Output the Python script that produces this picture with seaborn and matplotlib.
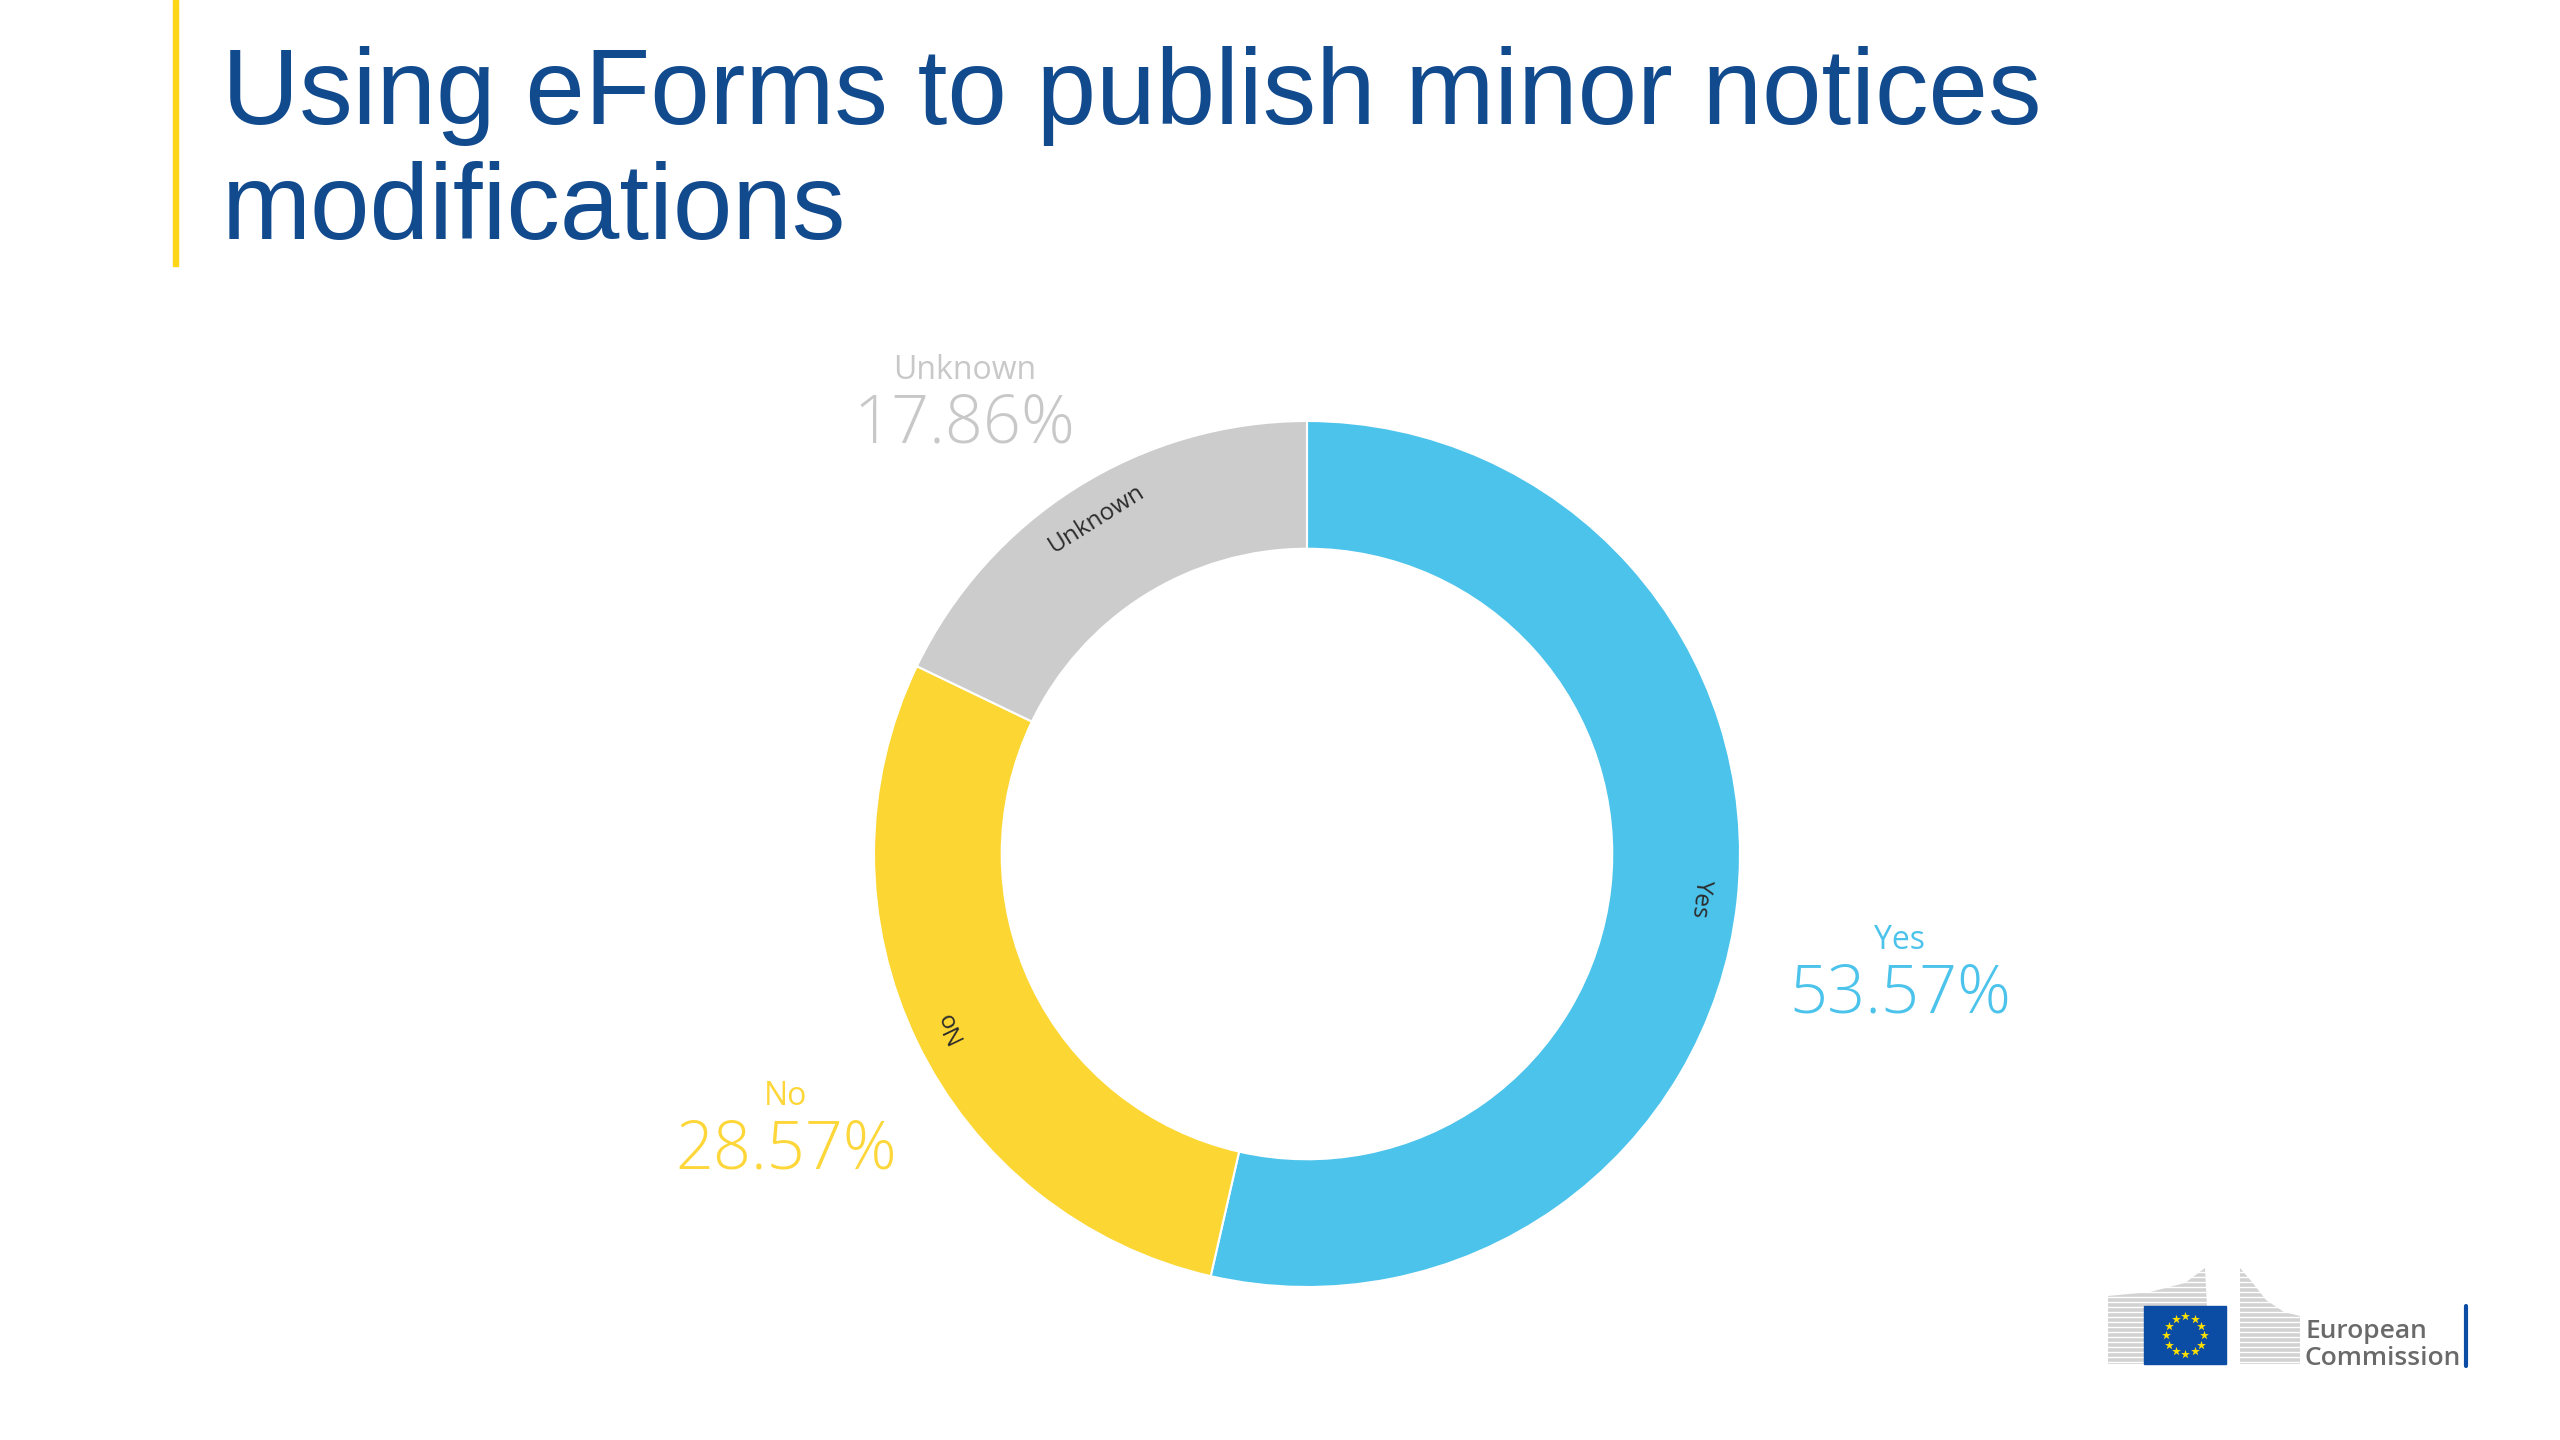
import numpy as np
import matplotlib
matplotlib.use("Agg")
import matplotlib.pyplot as plt
import seaborn as sns
from matplotlib.offsetbox import TextArea, VPacker, AnnotationBbox
from matplotlib.patches import Rectangle, Polygon

# data
categories = ["Yes", "No", "Unknown"]
shares = [53.57, 28.57, 17.86]
slice_colors = ["#4CC3EB", "#FCD633", "#CCCCCC"]
label_colors = ["#4CC3EB", "#FDD73A", "#C8C8C8"]
title = "Using eForms to publish minor notices\nmodifications"

W, H = 2560, 1440
CX, CY, R_PX = 1307, 854, 433   # donut centre / outer radius in pixels

sns.set_theme(style="white")
plt.rcParams["font.family"] = ["Open Sans", "DejaVu Sans"]

fig = plt.figure(figsize=(W / 100, H / 100), dpi=100)
fig.patch.set_facecolor("white")

# donut, 1 data unit == outer radius
ax = fig.add_axes([0, 0, 1, 1])
wedges, _ = ax.pie(shares, colors=slice_colors, startangle=90, counterclock=False,
                   radius=1, wedgeprops=dict(width=0.295, edgecolor="white", linewidth=1.5))
ax.set_xlim(-CX / R_PX, (W - CX) / R_PX)
ax.set_ylim((CY - H) / R_PX, CY / R_PX)
ax.axis("off")

for w, cat, share, lc in zip(wedges, categories, shares, label_colors):
    mid = np.deg2rad((w.theta1 + w.theta2) / 2)
    c, s = np.cos(mid), np.sin(mid)
    # category name along the ring
    ax.text(0.915 * c, 0.915 * s, cat, rotation=np.rad2deg(mid) - 90,
            rotation_mode="anchor", ha="center", va="center",
            fontsize=17.5, color="#2B2B2B")
    # outside data label
    box = VPacker(children=[
        TextArea(cat, textprops=dict(color=lc, fontsize=23)),
        TextArea(f"{share:.2f}%", textprops=dict(color=lc, fontsize=48, fontweight="light"))],
        align="center", pad=0, sep=4)
    ab = AnnotationBbox(box, (1.12 * c, 1.12 * s), xycoords="data",
                        xybox=(0, -11), boxcoords="offset points",
                        box_alignment=(0 if c > 0 else 0.88, 1 if s < 0 else 0),
                        frameon=False, pad=0)
    ax.add_artist(ab)

# slide decorations in pixel coords
axd = fig.add_axes([0, 0, 1, 1])
axd.set_xlim(0, W); axd.set_ylim(H, 0)
axd.axis("off"); axd.patch.set_alpha(0)

axd.add_patch(Rectangle((173, 0), 5, 266, color="#FFD617"))
axd.text(222, 46, title, fontsize=77, color="#124A8E", family="Liberation Sans",
         ha="left", va="top", linespacing=1.19)

# European Commission logo
stripe_gray = "#D2D2D2"
axd.add_patch(Polygon([(2108, 1296), (2150, 1292), (2185, 1283), (2205, 1268),
                       (2207, 1306), (2146, 1306), (2146, 1364), (2108, 1364)],
                      color=stripe_gray, lw=0))
axd.add_patch(Polygon([(2240, 1268), (2252, 1282), (2266, 1300), (2284, 1312),
                       (2300, 1316), (2300, 1364), (2240, 1364)],
                      color=stripe_gray, lw=0))
for yy in np.arange(1272, 1366, 5):
    axd.plot([2100, 2310], [yy, yy], color="white", lw=1.0)
axd.add_patch(Rectangle((2144, 1306), 82, 58, color="#0B4CA5", zorder=4))
ang = np.linspace(0, 2 * np.pi, 12, endpoint=False)
axd.scatter(2185 + 19 * np.cos(ang), 1335 + 19 * np.sin(ang), marker="*",
            s=45, color="#FFE100", linewidths=0, zorder=5)
axd.text(2305, 1338, "European", fontsize=19, color="#6A6A6A", va="baseline",
         fontweight="semibold")
axd.text(2305, 1365, "Commission", fontsize=19, color="#6A6A6A", va="baseline",
         fontweight="semibold")
axd.plot([2466, 2466], [1306, 1366], color="#0B4CA5", lw=3)

fig.savefig("out.png", dpi=100, facecolor="white")
